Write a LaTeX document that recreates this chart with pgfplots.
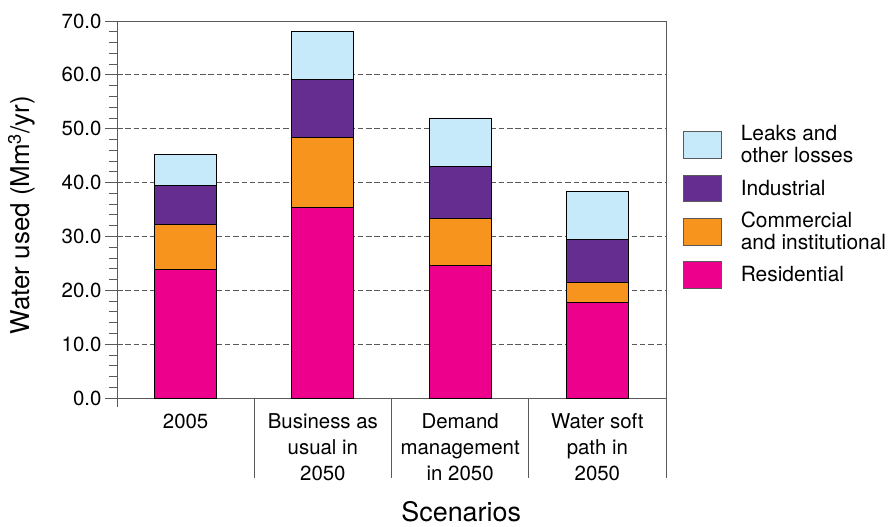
\documentclass[border=0pt]{standalone}
\usepackage{fontspec}
\setmainfont{TeX Gyre Heros}
\usepackage{pgfplots}
\pgfplotsset{compat=1.18}

\definecolor{leaks}{HTML}{C7EAFA}
\definecolor{indus}{HTML}{652D90}
\definecolor{comm}{HTML}{F7941D}
\definecolor{resid}{HTML}{EC008C}
\definecolor{axisgray}{HTML}{5A5A5A}

\begin{document}
\begin{tikzpicture}
\useasboundingbox (0,0) rectangle (891bp,527bp);
\begin{axis}[
  at={(117bp,129bp)}, anchor=south west,
  width=549bp, height=377bp, scale only axis,
  clip=false,
  ybar stacked, bar width=62bp,
  xmin=-0.5, xmax=3.5,
  ymin=0, ymax=70,
  xtick={0,1,2,3},
  xticklabels={2005, {Business as\\usual in\\2050}, {Demand\\management\\in 2050}, {Water soft\\path in\\2050}},
  x tick style={draw=none},
  xtick pos=bottom, ytick pos=left,
  ytick={0,10,...,70},
  minor y tick num=4,
  tick align=outside,
  major tick length=12bp, minor tick length=8bp,
  tick style={axisgray, line width=0.8bp},
  axis line style={axisgray, line width=0.9bp},
  ymajorgrids,
  major grid style={black!65, line width=0.8bp, dash pattern=on 5.5bp off 2.8bp},
  /pgf/number format/assume math mode=true,
  yticklabel={\pgfmathprintnumber[fixed, fixed zerofill, precision=1]{\tick}},
  ticklabel style={font=\fontsize{20.5}{26}\selectfont},
  xticklabel style={align=center},
  ylabel={Water used (Mm\textsuperscript{3}/yr)},
  ylabel style={at={(axis description cs:-0.1585,0.485)}, anchor=base, rotate=0,
    font=\fontsize{26}{30}\selectfont},
  xlabel={Scenarios},
  xlabel style={at={(axis description cs:0.627,-0.328)}, anchor=base,
    font=\fontsize{27}{30}\selectfont},
  reverse legend,
  legend style={at={(axis description cs:1.031,0.7241)}, anchor=north west,
    draw=none, fill=none, inner sep=0pt, outer sep=0pt,
    row sep=3.3bp, column sep=19bp,
    font=\fontsize{21}{22}\selectfont,
    nodes={inner sep=0pt},
    cells={anchor=west, align=left}},
  every axis plot post/.append style={draw=black, line width=0.8bp,
    legend image code/.code={
      \path[draw=none, fill=none] (0bp,-20bp) rectangle (38bp,20bp);
      \draw[##1, draw=axisgray] (0bp,-13.3bp) rectangle (38bp,13.3bp);}},
]
\addplot[fill=resid] coordinates {(0,23.8) (1,35.3) (2,24.6) (3,17.7)};
\addlegendentry{Residential}
\addplot[fill=comm] coordinates {(0,8.4) (1,13.1) (2,8.7) (3,3.7)};
\addlegendentry{Commercial\\and institutional}
\addplot[fill=indus] coordinates {(0,7.3) (1,10.7) (2,9.7) (3,8.0)};
\addlegendentry{Industrial}
\addplot[fill=leaks] coordinates {(0,5.8) (1,9.0) (2,9.0) (3,9.0)};
\addlegendentry{Leaks and\\other losses}
% category separators below the x axis
\draw[axisgray, line width=0.8bp] (axis cs:-0.5,0) -- ++(0bp,-9bp);
\pgfplotsinvokeforeach{0.5,1.5,2.5,3.5}{
  \draw[axisgray, line width=0.8bp] (axis cs:#1,0) -- ++(0bp,-80bp);
}
\end{axis}
\end{tikzpicture}
\end{document}
